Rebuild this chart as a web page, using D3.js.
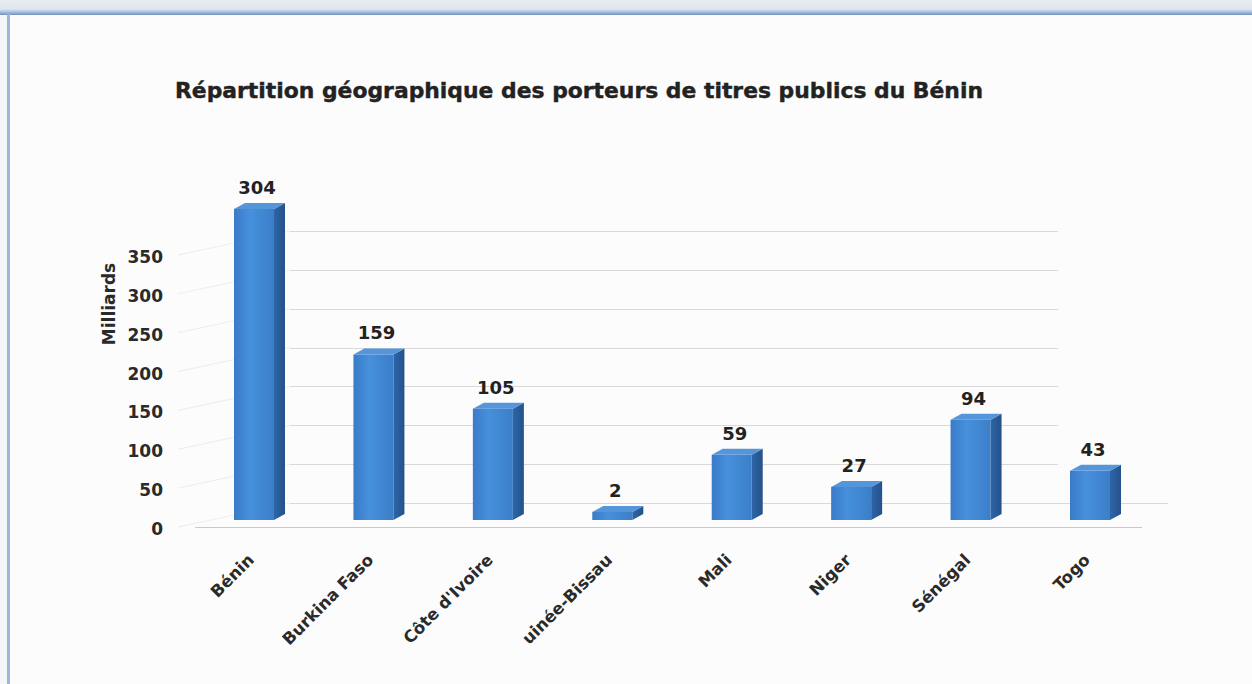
<!DOCTYPE html>
<html>
<head>
<meta charset="utf-8">
<script src="https://cdn.jsdelivr.net/npm/d3@7"></script>
<style>
  html, body { margin: 0; padding: 0; background: #ffffff; }
  svg { display: block; }
</style>
</head>
<body>
<svg id="chart" width="1252" height="684"></svg>
<script>
// ---- data ----
const categories = ["Bénin", "Burkina Faso", "Côte d'Ivoire", "Guinée-Bissau", "Mali", "Niger", "Sénégal", "Togo"];
const xTickLabels = ["Bénin", "Burkina Faso", "Côte d'Ivoire", "uinée-Bissau", "Mali", "Niger", "Sénégal", "Togo"];
const values = [304, 159, 105, 2, 59, 27, 94, 43];
const yTicks = [0, 50, 100, 150, 200, 250, 300, 350];
const titleText = "Répartition géographique des porteurs de titres publics du Bénin";
const yAxisTitle = "Milliards";

// ---- drawing ----
const svg = d3.select("#chart");
const W = 1252, H = 684;
const FONT = "'DejaVu Sans', 'Noto Sans', sans-serif";

const defs = svg.append("defs");
const chrome = defs.append("linearGradient").attr("id", "chrome").attr("x1", 0).attr("y1", 0).attr("x2", 0).attr("y2", 1);
chrome.append("stop").attr("offset", "0%").attr("stop-color", "#e9ecf1");
chrome.append("stop").attr("offset", "60%").attr("stop-color", "#dfe6ef");
chrome.append("stop").attr("offset", "80%").attr("stop-color", "#a9c0dd");
chrome.append("stop").attr("offset", "100%").attr("stop-color", "#6f90bd");

const front = defs.append("linearGradient").attr("id", "front").attr("x1", 0).attr("y1", 0).attr("x2", 1).attr("y2", 0);
front.append("stop").attr("offset", "0%").attr("stop-color", "#3a7bc8");
front.append("stop").attr("offset", "40%").attr("stop-color", "#4690dc");
front.append("stop").attr("offset", "100%").attr("stop-color", "#3c7ec8");

const side = defs.append("linearGradient").attr("id", "side").attr("x1", 0).attr("y1", 0).attr("x2", 1).attr("y2", 0);
side.append("stop").attr("offset", "0%").attr("stop-color", "#2e66a8");
side.append("stop").attr("offset", "100%").attr("stop-color", "#24518a");

// background
svg.append("rect").attr("x", 0).attr("y", 0).attr("width", W).attr("height", H).attr("fill", "#fcfcfc");
// window chrome at top
svg.append("rect").attr("x", 0).attr("y", 0).attr("width", W).attr("height", 15).attr("fill", "url(#chrome)");
// left border
svg.append("rect").attr("x", 7).attr("y", 14).attr("width", 3).attr("height", H - 14).attr("fill", "#9db7da");
svg.append("rect").attr("x", 0).attr("y", 15).attr("width", 7).attr("height", H - 15).attr("fill", "#f4f6f9");

// scales
const x = d3.scalePoint().domain(categories).range([254, 1090]);
const yAxisScale = d3.scaleLinear().domain([0, 350]).range([529, 257]);
const yBar = d3.scaleLinear().domain([0, 304]).range([514, 209]);
const BACK = 26;          // vertical offset of back wall
const DX = 11, DY = 6;    // bar depth
const BW = 40;            // bar front width
const BASE = 520;         // bar front bottom

// side wall lines (faint)
svg.append("g").selectAll("line").data(yTicks).join("line")
  .attr("x1", 178).attr("y1", d => yAxisScale(d) - 2)
  .attr("x2", 290).attr("y2", d => yAxisScale(d) - BACK)
  .attr("stroke", "#ededed").attr("stroke-width", 1);

// back wall gridlines
svg.append("g").selectAll("line").data(yTicks).join("line")
  .attr("x1", 290).attr("x2", d => d === 0 ? 1168 : 1058)
  .attr("y1", d => Math.round(yAxisScale(d) - BACK) + 0.5)
  .attr("y2", d => Math.round(yAxisScale(d) - BACK) + 0.5)
  .attr("stroke", "#d9d9d9").attr("stroke-width", 1);

// floor front edge
svg.append("line").attr("x1", 195).attr("x2", 1142).attr("y1", 527.5).attr("y2", 527.5)
  .attr("stroke", "#c9c9c9").attr("stroke-width", 1);

// y axis
const yAxis = d3.axisLeft(yAxisScale).tickValues(yTicks).tickSize(0).tickPadding(0);
const gy = svg.append("g").attr("transform", "translate(163,0)").call(yAxis);
gy.select(".domain").remove();
gy.selectAll("text").attr("font-family", FONT).attr("font-weight", "bold")
  .attr("font-size", 17).attr("fill", "#2a2a2a");

// y axis title
svg.append("text")
  .attr("transform", "translate(115,304) rotate(-90)")
  .attr("text-anchor", "middle")
  .attr("font-family", FONT).attr("font-weight", "bold").attr("font-size", 17)
  .attr("fill", "#2a2a2a")
  .text(yAxisTitle);

// title
svg.append("text")
  .attr("x", 175).attr("y", 98)
  .attr("font-family", FONT).attr("font-weight", "bold").attr("font-size", 20.5)
  .attr("textLength", 808).attr("lengthAdjust", "spacingAndGlyphs")
  .attr("fill", "#222222")
  .attr("stroke", "#222222").attr("stroke-width", 0.4)
  .text(titleText);

// bars
const data = categories.map((c, i) => ({ c, v: values[i], label: xTickLabels[i] }));
const bars = svg.append("g").selectAll("g").data(data).join("g");

bars.append("rect")
  .attr("x", d => x(d.c) - BW / 2)
  .attr("y", d => yBar(d.v))
  .attr("width", BW)
  .attr("height", d => BASE - yBar(d.v))
  .attr("fill", "url(#front)");

bars.append("path")
  .attr("d", d => {
    const l = x(d.c) + BW / 2, t = yBar(d.v);
    return `M${l},${t} L${l + DX},${t - DY} L${l + DX},${BASE - DY} L${l},${BASE} Z`;
  })
  .attr("fill", "url(#side)");

bars.append("path")
  .attr("d", d => {
    const l = x(d.c) - BW / 2, r = x(d.c) + BW / 2, t = yBar(d.v);
    return `M${l},${t} L${l + DX},${t - DY} L${r + DX},${t - DY} L${r},${t} Z`;
  })
  .attr("fill", "#5596db");

// value labels
bars.append("text")
  .attr("x", d => x(d.c) + 3)
  .attr("y", d => yBar(d.v) - 15)
  .attr("text-anchor", "middle")
  .attr("font-family", FONT).attr("font-weight", "bold").attr("font-size", 18)
  .attr("fill", "#222222")
  .text(d => d.v);

// category labels
bars.append("text")
  .attr("transform", d => `translate(${x(d.c) + 1},561) rotate(-45)`)
  .attr("text-anchor", "end")
  .attr("font-family", FONT).attr("font-weight", "bold").attr("font-size", 16.5)
  .attr("fill", "#2a2a2a")
  .text(d => d.label);
</script>
</body>
</html>
